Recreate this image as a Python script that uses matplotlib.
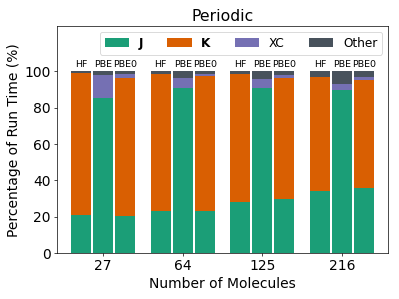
import matplotlib
matplotlib.use("Agg")
import matplotlib.pyplot as plt
import numpy as np

molecules = ["27", "64", "125", "216"]
methods = ["HF", "PBE", "PBE0"]
# values per group: [HF, PBE, PBE0]
J = [[21, 85, 20.5], [23, 90.7, 23], [28.2, 90.5, 29.5], [34, 89.7, 35.9]]
K = [[78, 0, 75.5], [75.7, 0, 74.4], [70.2, 0, 66.8], [62.7, 0, 59.3]]
XC = [[0, 12.9, 2.7], [0, 5.6, 1.0], [0, 5.1, 1.8], [0, 3.2, 1.7]]
Other = [[1.0, 2.1, 1.3], [1.3, 3.7, 1.6], [1.6, 4.4, 1.9], [3.3, 7.1, 3.1]]

colors = {"J": "#1b9e77", "K": "#d95f02", "XC": "#7570b3", "Other": "#48525c"}

DPI = 62.35
fig = plt.figure(figsize=(6.4, 4.8), dpi=DPI)
ax = fig.add_axes([57/399, 46/299, 331/399, 227/299])

w = 0.25
step = 0.276
offsets = [-step, 0, step]
xg = np.arange(len(molecules))
for mi, m in enumerate(methods):
    xs = xg + offsets[mi]
    j = np.array([J[g][mi] for g in range(4)])
    k = np.array([K[g][mi] for g in range(4)])
    xc = np.array([XC[g][mi] for g in range(4)])
    ot = np.array([Other[g][mi] for g in range(4)])
    kw = dict(width=w, linewidth=0)
    ax.bar(xs, j, color=colors["J"], label="J" if mi == 0 else None, **kw)
    ax.bar(xs, k, bottom=j, color=colors["K"], label="K" if mi == 0 else None, **kw)
    ax.bar(xs, xc, bottom=j + k, color=colors["XC"], label="XC" if mi == 0 else None, **kw)
    ax.bar(xs, ot, bottom=j + k + xc, color=colors["Other"], label="Other" if mi == 0 else None, **kw)
    for x in xs:
        ax.text(x, 101.5, m, ha="center", va="bottom", fontsize=11)

ax.set_xlim(-0.575, 3.575)
ax.set_ylim(0, 125)
ax.set_yticks([0, 20, 40, 60, 80, 100])
ax.set_xticks(xg)
ax.set_xticklabels(molecules, fontsize=16)
ax.tick_params(axis="y", labelsize=16)
ax.set_xlabel("Number of Molecules", fontsize=16)
ax.set_ylabel("Percentage of Run Time (%)", fontsize=16)
ax.set_title("Periodic", fontsize=18)

leg = ax.legend(loc="upper right", ncol=4, fontsize=14)
for t in leg.get_texts():
    if t.get_text() in ("J", "K"):
        t.set_fontweight("bold")

fig.savefig("out.png", dpi=DPI)
